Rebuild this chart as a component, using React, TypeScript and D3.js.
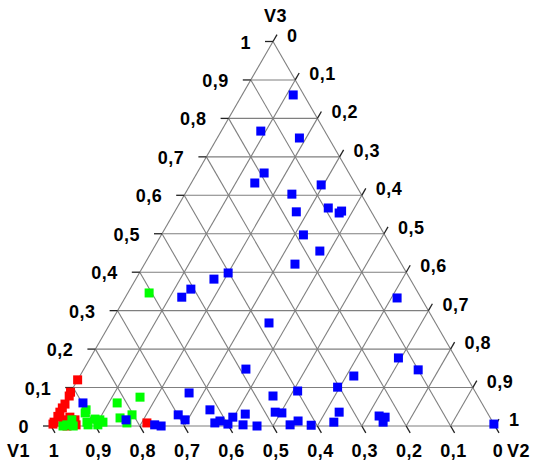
import React from 'react';
import * as d3 from 'd3';

// ternary points: [V1, V2, V3]
const bluePoints: [number, number, number][] = [
  [0.024, 0.115, 0.861], [0.144, 0.089, 0.767], [0.066, 0.185, 0.749],
  [0.191, 0.151, 0.658], [0.225, 0.143, 0.632], [0.078, 0.295, 0.627],
  [0.156, 0.241, 0.603], [0.092, 0.341, 0.567], [0.074, 0.372, 0.554],
  [0.066, 0.375, 0.559], [0.169, 0.274, 0.557], [0.183, 0.320, 0.497],
  [0.167, 0.378, 0.455], [0.240, 0.339, 0.421], [0.402, 0.200, 0.398],
  [0.442, 0.176, 0.382], [0.507, 0.137, 0.356], [0.538, 0.127, 0.335],
  [0.054, 0.613, 0.333], [0.375, 0.357, 0.268], [0.129, 0.694, 0.177],
  [0.100, 0.754, 0.146], [0.253, 0.617, 0.130], [0.304, 0.595, 0.101],
  [0.333, 0.631, 0.036], [0.358, 0.632, 0.010], [0.413, 0.585, 0.002],
  [0.248, 0.726, 0.026], [0.236, 0.741, 0.023], [0.247, 0.743, 0.010],
  [0.000, 0.995, 0.005], [0.487, 0.365, 0.148], [0.646, 0.268, 0.086],
  [0.461, 0.461, 0.078], [0.477, 0.487, 0.036], [0.463, 0.503, 0.034],
  [0.399, 0.510, 0.091], [0.699, 0.272, 0.029], [0.690, 0.294, 0.016],
  [0.621, 0.337, 0.042], [0.627, 0.365, 0.008], [0.613, 0.374, 0.013],
  [0.599, 0.396, 0.005], [0.579, 0.398, 0.023], [0.547, 0.422, 0.031],
  [0.566, 0.431, 0.003], [0.536, 0.464, 0.000], [0.460, 0.537, 0.003],
  [0.437, 0.550, 0.013], [0.765, 0.232, 0.003], [0.752, 0.248, 0.000],
  [0.898, 0.042, 0.060], [0.823, 0.161, 0.016],
];

const greenPoints: [number, number, number][] = [
  [0.906, 0.060, 0.034], [0.914, 0.076, 0.010], [0.915, 0.082, 0.003],
  [0.973, 0.027, 0.000], [0.963, 0.034, 0.003], [0.950, 0.050, 0.000],
  [0.945, 0.039, 0.016], [0.892, 0.090, 0.018], [0.882, 0.102, 0.016],
  [0.878, 0.112, 0.010], [0.893, 0.104, 0.003], [0.821, 0.119, 0.060],
  [0.762, 0.163, 0.075], [0.834, 0.145, 0.021], [0.803, 0.168, 0.029],
  [0.825, 0.167, 0.008], [0.606, 0.048, 0.346], [0.900, 0.058, 0.042],
];

const redPoints: [number, number, number][] = [
  [0.880, 0.000, 0.120], [0.912, 0.000, 0.088], [0.920, 0.002, 0.078],
  [0.940, 0.003, 0.057], [0.951, 0.002, 0.047], [0.962, 0.002, 0.036],
  [0.972, 0.003, 0.025], [0.988, 0.002, 0.010], [0.993, 0.002, 0.005],
  [0.965, 0.019, 0.016], [0.946, 0.031, 0.023], [0.938, 0.046, 0.016],
  [0.942, 0.055, 0.003], [0.964, 0.036, 0.000], [0.780, 0.212, 0.008],
];

const tickValues = [0, 0.1, 0.2, 0.3, 0.4, 0.5, 0.6, 0.7, 0.8, 0.9, 1];
const tickLabels = ['0', '0,1', '0,2', '0,3', '0,4', '0,5', '0,6', '0,7', '0,8', '0,9', '1'];
const axisNames = ['V1', 'V2', 'V3'];

const W = 535;
const H = 466;
const gridColor = '#7f7f7f';
const font = '"Liberation Sans", Arial, sans-serif';

// horizontal position from (V2 + V3/2), vertical from V3
const xs = d3.scaleLinear().domain([0, 1]).range([51, 495]);
const ys = d3.scaleLinear().domain([0, 1]).range([426, 41.5]);

const proj = (v2: number, v3: number): [number, number] => [xs(v2 + v3 / 2), ys(v3)];

export default function App() {
  const lines: { a: [number, number]; b: [number, number] }[] = [];
  tickValues.forEach((t) => {
    if (t === 0 || t === 1) return;
    lines.push({ a: proj(0, t), b: proj(1 - t, t) }); // constant V3
    lines.push({ a: proj(t, 0), b: proj(t, 1 - t) }); // constant V2
    lines.push({ a: proj(1 - t, 0), b: proj(0, 1 - t) }); // constant V1
  });
  // outer edges
  lines.push({ a: proj(0, 0), b: proj(1, 0) });
  lines.push({ a: proj(0, 0), b: proj(0, 1) });
  lines.push({ a: proj(1, 0), b: proj(0, 1) });

  const tickLen = 8;
  const s = 9; // marker side

  const marks = (pts: [number, number, number][], color: string, key: string) =>
    pts.map((d, i) => {
      const [x, y] = proj(d[1], d[2]);
      return <rect key={key + i} x={x - s / 2} y={y - s / 2} width={s} height={s} fill={color} />;
    });

  return (
    <div style={{ position: 'absolute', left: 0, top: 0, width: W, height: H, background: 'white' }}>
      <svg width={W} height={H} style={{ display: 'block' }}>
        <g>
          {lines.map((l, i) => (
            <line key={i} x1={l.a[0]} y1={l.a[1]} x2={l.b[0]} y2={l.b[1]} stroke={gridColor} strokeWidth={1.1} />
          ))}
        </g>
        <g stroke="#222" strokeWidth={1.3}>
          {tickValues.map((t, i) => {
            const [lx, ly] = proj(0, t);
            const [rx, ry] = proj(t, 1 - t);
            const [bx, by] = proj(1 - t, 0);
            return (
              <g key={i}>
                <line x1={lx - tickLen} y1={ly} x2={lx} y2={ly} />
                <line x1={rx} y1={ry} x2={rx + tickLen * 0.5} y2={ry - tickLen * 0.866} />
                <line x1={bx} y1={by} x2={bx + tickLen * 0.5} y2={by + tickLen * 0.866} />
              </g>
            );
          })}
        </g>
        <g fontFamily={font} fontWeight="bold" fontSize={18} fill="#000" letterSpacing={0.5}>
          {tickValues.map((t, i) => {
            const [lx, ly] = proj(0, t);
            const [rx, ry] = proj(t, 1 - t);
            const [bx, by] = proj(1 - t, 0);
            return (
              <g key={i}>
                <text x={lx - 22} y={ly + 7} textAnchor="end">{tickLabels[i]}</text>
                <text x={rx + 14} y={ry} textAnchor="start">{tickLabels[i]}</text>
                <text x={bx + 3} y={by + 31} textAnchor="middle">{tickLabels[i]}</text>
              </g>
            );
          })}
          <text x={7} y={457}>{axisNames[0]}</text>
          <text x={507} y={457}>{axisNames[1]}</text>
          <text x={264} y={22}>{axisNames[2]}</text>
        </g>
        <g>
          {marks(redPoints, '#ff0000', 'r')}
          {marks(greenPoints, '#00ff00', 'g')}
          {marks(bluePoints, '#0000ff', 'b')}
        </g>
      </svg>
    </div>
  );
}
